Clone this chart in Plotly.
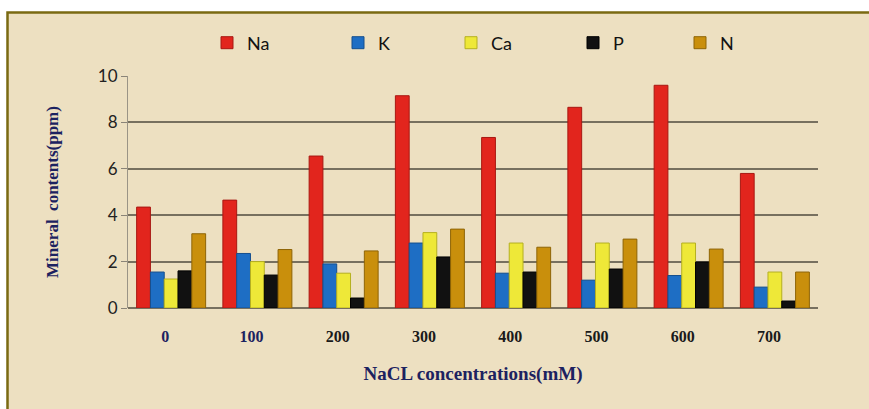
import plotly.graph_objects as go

categories = ["0", "100", "200", "300", "400", "500", "600", "700"]
na = [4.35, 4.65, 6.55, 9.15, 7.35, 8.65, 9.6, 5.8]
k = [1.55, 2.35, 1.9, 2.8, 1.5, 1.2, 1.4, 0.9]
ca = [1.25, 2.0, 1.5, 3.25, 2.8, 2.8, 2.8, 1.55]
p = [1.6, 1.42, 0.43, 2.2, 1.55, 1.68, 1.98, 0.3]
n = [3.2, 2.52, 2.46, 3.4, 2.62, 2.97, 2.54, 1.55]
series_names = ["Na", "K", "Ca", "P", "N"]
y_ticks = [0, 2, 4, 6, 8, 10]

colors = ["#E2251D", "#1E6EC4", "#EEE838", "#111111", "#C98F0C"]
edges = ["#A81812", "#154F8E", "#B5B020", "#000000", "#8E6406"]
legend_px = [207, 338, 451, 573, 680]

W, H = 869, 409
L, R, T, B = 128, 818, 76, 308
pw, ph = R - L, B - T

def px_x(x):
    return (x - L) / pw

def px_y(y):
    return (B - y) / ph

fig = go.Figure()
legend_layout = {}
for i, (name, vals, c, e) in enumerate(zip(series_names, [na, k, ca, p, n], colors, edges)):
    lname = "legend" if i == 0 else f"legend{i + 1}"
    fig.add_trace(go.Bar(
        name=name, x=categories, y=vals, legend=lname,
        marker=dict(color=c, line=dict(color=e, width=1)),
    ))
    legend_layout[lname] = dict(
        orientation="h", x=px_x(legend_px[i]), y=px_y(43),
        xanchor="left", yanchor="middle",
        font=dict(family="Lato", size=18, color="#111"),
        itemwidth=30, bgcolor="rgba(0,0,0,0)",
    )

navy = "#1C2260"
ticktext = []
for i, c in enumerate(categories):
    col = navy if i < 2 else "#1a1a1a"
    ticktext.append(f"<b><span style='color:{col}'>{c}</span></b>")

fig.update_layout(
    width=W, height=H,
    margin=dict(l=L, r=W - R, t=T, b=H - B),
    paper_bgcolor="white",
    plot_bgcolor="rgba(0,0,0,0)",
    barmode="group",
    bargap=0.2,
    bargroupgap=0,
    showlegend=True,
    shapes=[
        dict(type="rect", xref="paper", yref="paper",
             x0=px_x(7.5), x1=px_x(W + 50), y0=px_y(12.5), y1=px_y(H + 50),
             fillcolor="#EDE0C1", line=dict(color="#7A6A12", width=2.5), layer="below"),
    ],
    xaxis=dict(
        tickmode="array", tickvals=categories, ticktext=ticktext,
        tickfont=dict(family="Liberation Serif", size=16, color="#1a1a1a"),
        ticks="outside", ticklen=14, tickcolor="rgba(0,0,0,0)",
        ticklabelshift=-6,
        showline=False, showgrid=False,
        title=dict(text="<b>NaCL concentrations(mM)</b>",
                   font=dict(family="Liberation Serif", size=19, color=navy),
                   standoff=22),
    ),
    yaxis=dict(
        range=[0, 10], tickvals=y_ticks,
        tickfont=dict(family="Lato", size=17, color="#222"),
        ticks="outside", ticklen=6, tickcolor="#8a8478",
        showline=True, linecolor="#9a9486", linewidth=1,
        showgrid=True, gridcolor="#77705F", gridwidth=2,
        zeroline=True, zerolinecolor="#77705F", zerolinewidth=2,
        title=dict(text="<b>Mineral  contents(ppm)</b>",
                   font=dict(family="Liberation Serif", size=17, color=navy),
                   standoff=34),
    ),
    **legend_layout,
)

fig.write_html("out.html")
